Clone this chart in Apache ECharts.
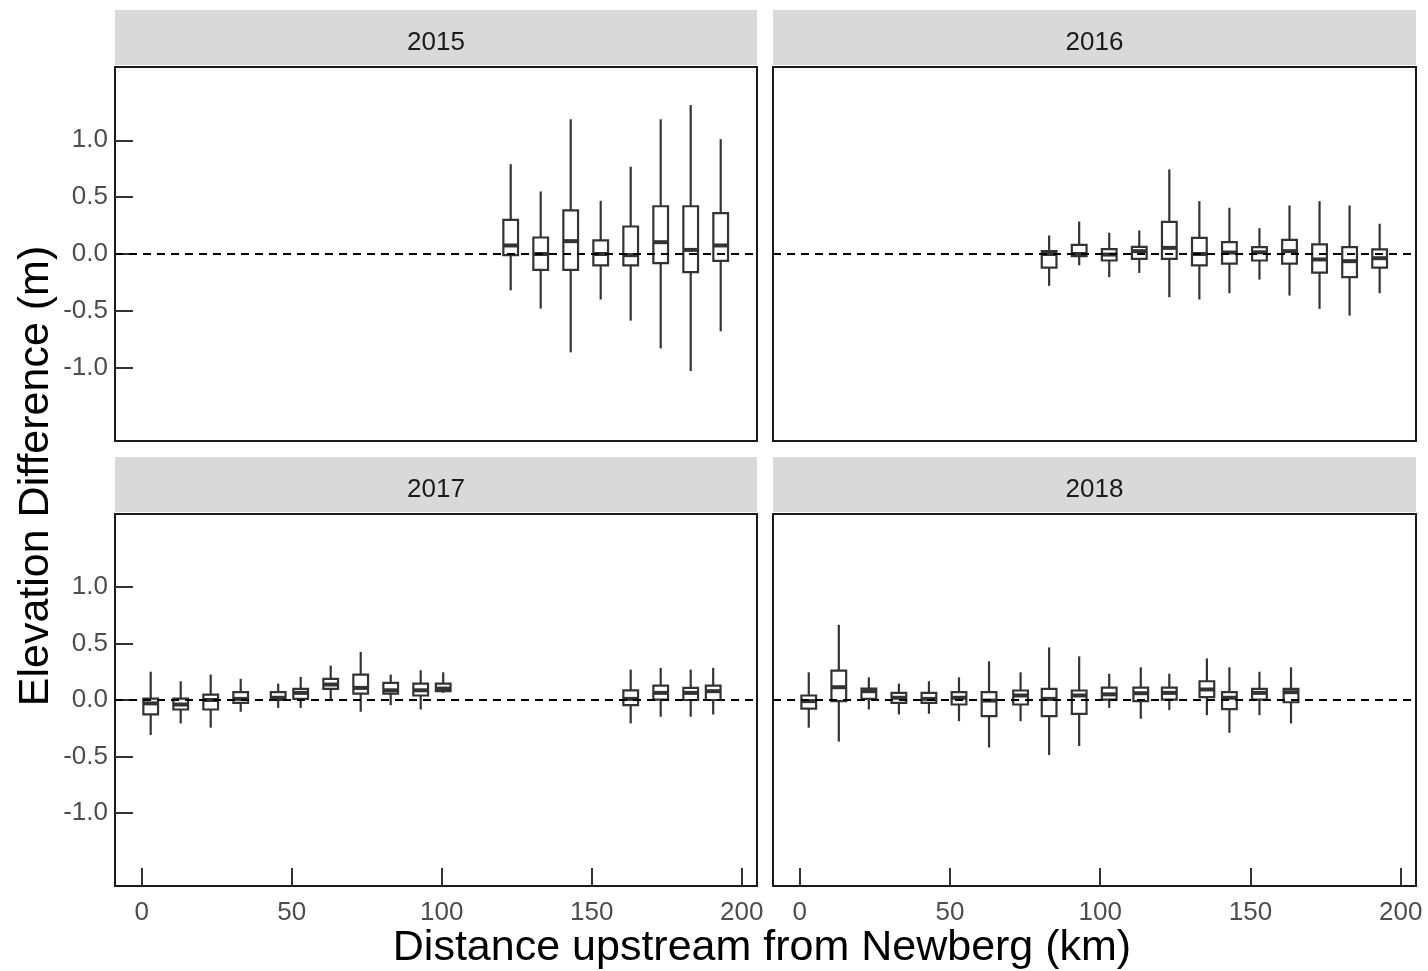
<!DOCTYPE html>
<html>
<head>
<meta charset="utf-8">
<script src="https://cdn.jsdelivr.net/npm/echarts@6/dist/echarts.min.js"></script>
<style>
  html, body { margin: 0; padding: 0; background: #fff; }
  #chart { width: 1428px; height: 971px; }
</style>
</head>
<body>
<div id="chart"></div>
<script>
// facet titles
const years = ['2015', '2016', '2017', '2018']

// box positions (km upstream) and [lower whisker, Q1, median, Q3, upper whisker] (m)
const km2015 = [123, 133, 143, 153, 163, 173, 183, 193]
const box2015 = [
  [-0.32, -0.01, 0.075, 0.30, 0.79],
  [-0.48, -0.14, 0.00, 0.145, 0.55],
  [-0.865, -0.14, 0.113, 0.383, 1.185],
  [-0.40, -0.10, 0.00, 0.119, 0.468],
  [-0.586, -0.10, -0.01, 0.242, 0.768],
  [-0.83, -0.08, 0.104, 0.42, 1.185],
  [-1.03, -0.16, 0.036, 0.42, 1.31],
  [-0.68, -0.06, 0.075, 0.36, 1.01]
]

const km2016 = [83, 93, 103, 113, 123, 133, 143, 153, 163, 173, 183, 193]
const box2016 = [
  [-0.28, -0.12, 0.00, 0.025, 0.163],
  [-0.10, -0.02, 0.00, 0.081, 0.286],
  [-0.204, -0.057, -0.005, 0.043, 0.187],
  [-0.166, -0.043, 0.025, 0.063, 0.207],
  [-0.38, -0.043, 0.054, 0.283, 0.744],
  [-0.40, -0.10, 0.00, 0.142, 0.465],
  [-0.345, -0.084, 0.013, 0.104, 0.407],
  [-0.225, -0.057, 0.015, 0.06, 0.227],
  [-0.366, -0.084, 0.025, 0.125, 0.427],
  [-0.483, -0.163, -0.048, 0.084, 0.465],
  [-0.542, -0.204, -0.063, 0.06, 0.427],
  [-0.345, -0.12, -0.037, 0.04, 0.266]
]

const km2017 = [3, 13, 23, 33, 45.5, 53, 63, 73, 83, 93, 100.5, 163, 173, 183, 190.5]
const box2017 = [
  [-0.31, -0.128, -0.03, 0.013, 0.25],
  [-0.207, -0.084, -0.04, 0.013, 0.166],
  [-0.245, -0.084, 0.00, 0.048, 0.225],
  [-0.104, -0.025, 0.01, 0.069, 0.187],
  [-0.07, 0.00, 0.02, 0.069, 0.145],
  [-0.07, 0.01, 0.063, 0.099, 0.204],
  [0.00, 0.099, 0.137, 0.187, 0.304],
  [-0.104, 0.057, 0.107, 0.225, 0.425],
  [-0.046, 0.057, 0.086, 0.151, 0.225],
  [-0.084, 0.04, 0.086, 0.145, 0.263],
  [0.063, 0.078, 0.101, 0.145, 0.245],
  [-0.207, -0.046, 0.01, 0.086, 0.269],
  [-0.148, 0.004, 0.063, 0.128, 0.284],
  [-0.148, 0.00, 0.063, 0.107, 0.269],
  [-0.128, 0.00, 0.078, 0.128, 0.284]
]

const km2018 = [3, 13, 23, 33, 43, 53, 63, 73.5, 83, 93, 103, 113.5, 123, 135.5, 143, 153, 163.5]
const box2018 = [
  [-0.245, -0.077, -0.01, 0.04, 0.245],
  [-0.368, -0.01, 0.113, 0.26, 0.665],
  [-0.084, 0.01, 0.078, 0.101, 0.20],
  [-0.128, -0.025, 0.02, 0.063, 0.145],
  [-0.122, -0.025, 0.01, 0.063, 0.166],
  [-0.187, -0.04, 0.02, 0.069, 0.20],
  [-0.42, -0.143, -0.005, 0.069, 0.342],
  [-0.187, -0.04, 0.04, 0.084, 0.245],
  [-0.486, -0.143, 0.01, 0.099, 0.465],
  [-0.407, -0.122, 0.04, 0.084, 0.386],
  [-0.07, 0.004, 0.05, 0.11, 0.232],
  [-0.166, -0.01, 0.06, 0.11, 0.289],
  [-0.09, 0.004, 0.063, 0.11, 0.232],
  [-0.134, 0.025, 0.093, 0.166, 0.368],
  [-0.29, -0.08, 0.02, 0.069, 0.289],
  [-0.134, 0.004, 0.063, 0.099, 0.25],
  [-0.207, -0.02, 0.069, 0.099, 0.289]
]

const xTicks = [0, 50, 100, 150, 200]
const yTicks = [-1, -0.5, 0, 0.5, 1]

const kmList = [km2015, km2016, km2017, km2018]
const boxList = [box2015, box2016, box2017, box2018]

const FONT = '"Liberation Sans", Arial, sans-serif'
const BOX_WIDTH = 4.9 // km

// panel rectangles [left, top, width, height]
const panels = [
  [115, 67, 642, 374],
  [773, 67, 643, 374],
  [115, 514, 642, 372],
  [773, 514, 643, 372]
]

const renderBox = (params, api) => {
  const x = api.value(0)
  const lo = api.coord([x, api.value(1)])
  const q1 = api.coord([x, api.value(2)])
  const med = api.coord([x, api.value(3)])
  const q3 = api.coord([x, api.value(4)])
  const hi = api.coord([x, api.value(5)])
  const w = api.size([BOX_WIDTH, 0])[0]
  const cx = lo[0]
  const stroke = '#333333'
  return {
    type: 'group',
    children: [
      {type: 'line', shape: {x1: cx, y1: hi[1], x2: cx, y2: q3[1]}, style: {stroke, lineWidth: 2.2}},
      {type: 'line', shape: {x1: cx, y1: q1[1], x2: cx, y2: lo[1]}, style: {stroke, lineWidth: 2.2}},
      {type: 'rect', shape: {x: cx - w / 2, y: q3[1], width: w, height: q1[1] - q3[1]},
        style: {fill: '#ffffff', stroke, lineWidth: 2.2}},
      {type: 'line', shape: {x1: cx - w / 2, y1: med[1], x2: cx + w / 2, y2: med[1]},
        style: {stroke, lineWidth: 4}}
    ]
  }
}

const grid = panels.map(p => ({
  left: p[0], top: p[1], width: p[2], height: p[3],
  show: true, borderColor: '#1a1a1a', borderWidth: 2, backgroundColor: '#fff'
}))

const xAxis = panels.map((p, i) => {
  const bottom = i >= 2
  return {
    type: 'value', gridIndex: i, min: -8.9, max: 205.1, position: 'bottom',
    axisLine: {show: false, onZero: false},
    splitLine: {show: false},
    axisTick: {show: bottom, inside: true, length: 18, customValues: xTicks,
      lineStyle: {color: '#333', width: 2}},
    axisLabel: {show: bottom, customValues: xTicks, margin: 14,
      color: '#4d4d4d', fontSize: 26, fontFamily: FONT}
  }
})

const yAxis = panels.map((p, i) => {
  const left = i % 2 === 0
  return {
    type: 'value', gridIndex: i, min: -1.645, max: 1.645, position: 'left',
    axisLine: {show: false, onZero: false},
    splitLine: {show: false},
    axisTick: {show: left, inside: true, length: 18, customValues: yTicks,
      lineStyle: {color: '#333', width: 2}},
    axisLabel: {show: left, customValues: yTicks, margin: 7,
      color: '#4d4d4d', fontSize: 26, fontFamily: FONT,
      formatter: v => v.toFixed(1)}
  }
})

const series = []
kmList.forEach((kms, i) => {
  series.push({
    type: 'custom', xAxisIndex: i, yAxisIndex: i, z: 2,
    renderItem: renderBox,
    encode: {x: 0, y: [1, 2, 3, 4, 5]},
    data: kms.map((k, j) => [k, ...boxList[i][j]]),
    silent: true
  })
  series.push({
    type: 'line', xAxisIndex: i, yAxisIndex: i, z: 5, data: [],
    markLine: {
      silent: true, symbol: 'none', label: {show: false},
      lineStyle: {color: '#000', type: [8, 6], width: 2},
      data: [{yAxis: 0}]
    }
  })
})

const graphic = []
panels.forEach((p, i) => {
  const stripTop = i < 2 ? 10 : 457
  graphic.push({
    type: 'rect', left: p[0], top: stripTop, z: 0,
    shape: {width: p[2], height: 55},
    style: {fill: '#d9d9d9'}
  })
  graphic.push({
    type: 'text', x: p[0] + p[2] / 2, y: stripTop + 33, z: 1,
    style: {text: years[i], fill: '#1a1a1a', font: '26px ' + FONT, align: 'center', verticalAlign: 'middle'}
  })
})
graphic.push({
  type: 'text', x: 762, y: 948,
  style: {text: 'Distance upstream from Newberg (km)', fill: '#000', font: '43px ' + FONT,
    align: 'center', verticalAlign: 'middle'}
})
graphic.push({
  type: 'text', x: 36, y: 476, rotation: Math.PI / 2,
  style: {text: 'Elevation Difference (m)', fill: '#000', font: '43px ' + FONT,
    align: 'center', verticalAlign: 'middle'}
})

const chart = echarts.init(document.getElementById('chart'), null, {renderer: 'canvas'})
chart.setOption({
  animation: false,
  backgroundColor: '#fff',
  grid, xAxis, yAxis, series, graphic
})
</script>
</body>
</html>
